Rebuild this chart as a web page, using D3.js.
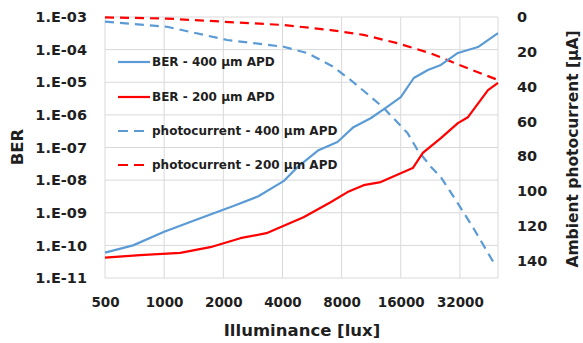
<!DOCTYPE html>
<html><head><meta charset="utf-8">
<script src="https://cdn.jsdelivr.net/npm/d3@7"></script>
<style>
html,body{margin:0;padding:0;background:#fff;}
svg{display:block;font-family:"DejaVu Sans",sans-serif;font-weight:bold;}
</style></head>
<body><svg id="chart" width="583" height="343"></svg>
<script>
// ---- data ----
const xTicks = [500, 1000, 2000, 4000, 8000, 16000, 32000];
const yLeftTicks = [1e-3, 1e-4, 1e-5, 1e-6, 1e-7, 1e-8, 1e-9, 1e-10, 1e-11];
const yRightTicks = [0, 20, 40, 60, 80, 100, 120, 140];

const ber400Lux = [500, 695, 1000, 1526, 2250, 3017, 4050, 4770, 6105, 7620, 9190, 11240, 13420, 16000, 18640, 21980, 25600, 31250, 39530, 50000];
const ber400Val = [6.0e-11, 1.0e-10, 2.6e-10, 6.8e-10, 1.6e-9, 3.2e-9, 9.3e-9, 2.5e-8, 8.3e-8, 1.47e-7, 4.2e-7, 7.9e-7, 1.63e-6, 3.5e-6, 1.35e-5, 2.37e-5, 3.4e-5, 7.9e-5, 1.2e-4, 3.2e-4];

const ber200Lux = [500, 754, 1207, 1717, 2442, 3315, 5120, 7030, 8575, 10360, 12650, 18420, 20720, 25600, 31250, 35160, 44470, 50000];
const ber200Val = [4.2e-11, 5.0e-11, 5.9e-11, 8.8e-11, 1.66e-10, 2.37e-10, 7.3e-10, 2.1e-9, 4.3e-9, 7.0e-9, 8.7e-9, 2.34e-8, 6.8e-8, 1.94e-7, 5.6e-7, 8.5e-7, 5.7e-6, 9.5e-6];

const pc400Lux = [500, 1032, 2089, 4050, 5348, 7280, 8890, 11240, 13100, 17320, 19470, 22750, 25600, 31150, 37710, 48270];
const pc400Val = [2.7, 5.6, 13.2, 17.1, 20.7, 28.7, 36.2, 45.8, 52.3, 66.7, 76.4, 86.0, 92.0, 106.9, 121.8, 142.5];

const pc200Lux = [500, 1030, 2000, 4050, 7030, 10360, 15450, 22750, 33540, 50000];
const pc200Val = [0.2, 0.9, 2.7, 4.6, 7.5, 10.3, 15.1, 20.9, 28.6, 36.2];

const legendLabels = ["BER - 400 \u00b5m APD", "BER - 200 \u00b5m APD", "photocurrent - 400 \u00b5m APD", "photocurrent - 200 \u00b5m APD"];

// ---- chart ----
const BLUE = "#5b9bd5", RED = "#ff0000", GRID = "#d9d9d9", TXT = "#1f1f1f";
const svg = d3.select("#chart");
const L = 105, R = 498, T = 17, B = 278;

const x = d3.scaleLog().base(2).domain([500, 50000]).range([L, R]);
const yL = d3.scaleLog().domain([1e-11, 1e-3]).range([B, T]);
const yR = d3.scaleLinear().domain([0, 150]).range([T, B]);

// gridlines
const g = svg.append("g");
g.selectAll("line.h").data(yLeftTicks).join("line")
  .attr("x1", L).attr("x2", R).attr("y1", d => yL(d)).attr("y2", d => yL(d))
  .attr("stroke", GRID).attr("stroke-width", 1);
g.selectAll("line.v").data(xTicks.concat([50000])).join("line")
  .attr("y1", T).attr("y2", B).attr("x1", d => x(d)).attr("x2", d => x(d))
  .attr("stroke", GRID).attr("stroke-width", 1);

// axes (labels only)
const fmtBER = d => "1.E-" + String(Math.round(-Math.log10(d))).padStart(2, "0");
const axL = svg.append("g").attr("transform", `translate(${L},0)`)
  .call(d3.axisLeft(yL).tickValues(yLeftTicks).tickFormat(fmtBER).tickSize(0).tickPadding(18));
const axR = svg.append("g").attr("transform", `translate(${R},0)`)
  .call(d3.axisRight(yR).tickValues(yRightTicks).tickFormat(d3.format("d")).tickSize(0).tickPadding(19));
const axB = svg.append("g").attr("transform", `translate(0,${B})`)
  .call(d3.axisBottom(x).tickValues(xTicks).tickFormat(d3.format("d")).tickSize(0).tickPadding(19));
[axL, axR, axB].forEach(a => {
  a.select(".domain").remove();
  a.selectAll("text").attr("fill", TXT).style("font-size", "14.5px").style("font-weight", "bold")
    .style("font-family", "DejaVu Sans, sans-serif");
});
axB.selectAll("text").style("font-size", "13.5px");

// titles
svg.append("text").attr("x", 302).attr("y", 336).attr("text-anchor", "middle")
  .attr("fill", TXT).style("font-size", "16.5px").text("Illuminance [lux]");
svg.append("text").attr("transform", "translate(23,147) rotate(-90)").attr("text-anchor", "middle")
  .attr("fill", TXT).style("font-size", "16.5px").text("BER");
svg.append("text").attr("transform", "translate(578,149) rotate(-90)").attr("text-anchor", "middle")
  .attr("fill", TXT).style("font-size", "15.5px").text("Ambient photocurrent [\u00b5A]");

// lines
const lineBER = d3.line().x(d => x(d[0])).y(d => yL(d[1]));
const linePC = d3.line().x(d => x(d[0])).y(d => yR(d[1]));
const zip = (a, b) => a.map((v, i) => [v, b[i]]);

const series = [
  {d: linePC(zip(pc200Lux, pc200Val)), c: RED, dash: "9,6"},
  {d: linePC(zip(pc400Lux, pc400Val)), c: BLUE, dash: "9,6"},
  {d: lineBER(zip(ber200Lux, ber200Val)), c: RED, dash: null},
  {d: lineBER(zip(ber400Lux, ber400Val)), c: BLUE, dash: null}
];
svg.append("g").selectAll("path").data(series).join("path")
  .attr("d", s => s.d).attr("fill", "none").attr("stroke", s => s.c)
  .attr("stroke-width", 2.2).attr("stroke-dasharray", s => s.dash)
  .attr("stroke-linejoin", "round");

// legend
const legY = [62, 97, 131, 165];
const legStyle = [{c: BLUE, dash: null}, {c: RED, dash: null}, {c: BLUE, dash: "10,6"}, {c: RED, dash: "10,6"}];
const leg = svg.append("g").selectAll("g").data(legendLabels).join("g")
  .attr("transform", (d, i) => `translate(118,${legY[i]})`);
leg.append("line").attr("x1", 0).attr("x2", 32).attr("y1", 0).attr("y2", 0)
  .attr("stroke", (d, i) => legStyle[i].c).attr("stroke-width", 2.2)
  .attr("stroke-dasharray", (d, i) => legStyle[i].dash);
leg.append("text").attr("x", 34).attr("dy", "0.35em").attr("fill", TXT)
  .style("font-size", "12px").text(d => d);
</script></body></html>
